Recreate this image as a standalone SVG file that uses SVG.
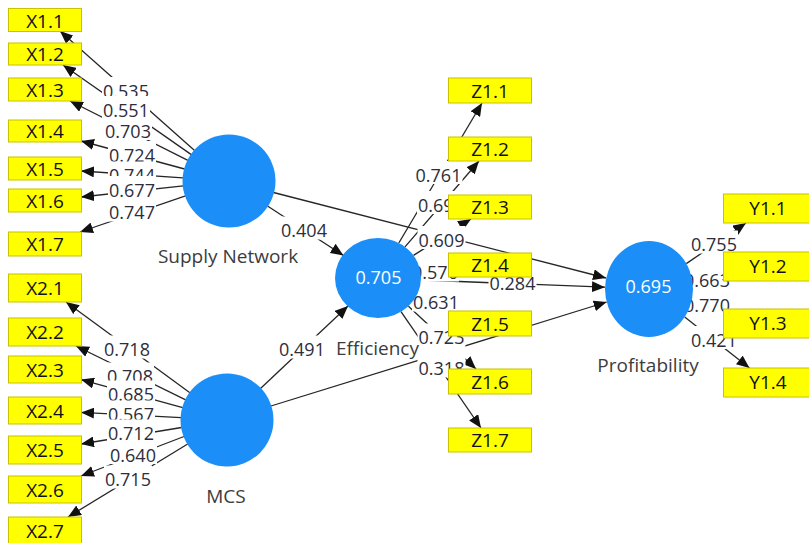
<svg xmlns="http://www.w3.org/2000/svg" width="809" height="543" viewBox="0 0 809 543">
<defs>
<marker id="ah" markerWidth="13" markerHeight="11" refX="13" refY="5.5" orient="auto" markerUnits="userSpaceOnUse">
<path d="M0,0 L13,5.5 L0,11 z" fill="#111"/>
</marker>
<style>
.conn line{stroke:#262626;stroke-width:1.3;fill:none;marker-end:url(#ah)}
.lb rect{fill:#fff}
.lb text{font-family:"Open Sans","Liberation Sans",sans-serif;font-size:18px;text-anchor:middle;fill:#2d2d3c}
.box{fill:#ffff00;stroke:#c8c200;stroke-width:1}
.bt{font-family:"Open Sans","Liberation Sans",sans-serif;font-size:19px;text-anchor:middle;fill:#111}
.lv{fill:#1b8ff7}
.nv{font-family:"Open Sans","Liberation Sans",sans-serif;font-size:18px;text-anchor:middle;fill:#fff}
.nl{font-family:"Open Sans","Liberation Sans",sans-serif;font-size:19px;text-anchor:middle;fill:#3c3c3c}
</style>
</defs>
<rect width="809" height="543" fill="#fff"/>
<g id="connectors" class="conn">
<line x1="194.6" y1="150.5" x2="60" y2="31"/>
<line x1="191.3" y1="154.6" x2="63" y2="65"/>
<line x1="187.9" y1="160.3" x2="70" y2="101"/>
<line x1="184.6" y1="169" x2="81" y2="141"/>
<line x1="183.1" y1="177.9" x2="81" y2="171"/>
<line x1="183.3" y1="185.9" x2="81" y2="197"/>
<line x1="185.5" y1="195.9" x2="80" y2="232"/>
<line x1="189.9" y1="392.8" x2="66" y2="302"/>
<line x1="185.7" y1="399.8" x2="76" y2="346"/>
<line x1="182.7" y1="407.7" x2="81" y2="379.6"/>
<line x1="181.1" y1="417.6" x2="81" y2="412.4"/>
<line x1="181.6" y1="427.5" x2="81" y2="444"/>
<line x1="184" y1="436.5" x2="81" y2="476"/>
<line x1="187.7" y1="444" x2="68" y2="517"/>
<line x1="267.5" y1="206" x2="343.5" y2="255.5"/>
<line x1="260.5" y1="388.5" x2="348" y2="306"/>
<line x1="273.5" y1="192.5" x2="606" y2="278"/>
<line x1="271" y1="406" x2="606.7" y2="302"/>
<line x1="421" y1="280" x2="605" y2="287.2"/>
<line x1="398.8" y1="243" x2="482" y2="103"/>
<line x1="405" y1="246.8" x2="479" y2="161"/>
<line x1="413.5" y1="255.4" x2="471" y2="219"/>
<line x1="420.7" y1="273" x2="448" y2="270"/>
<line x1="418" y1="293" x2="459" y2="311"/>
<line x1="408.4" y1="306.2" x2="476" y2="369"/>
<line x1="401" y1="311.7" x2="481" y2="428"/>
<line x1="686.3" y1="263.6" x2="746" y2="223"/>
<line x1="692.3" y1="280.6" x2="723" y2="275"/>
<line x1="691.5" y1="301.3" x2="723" y2="310.5"/>
<line x1="684.7" y1="317" x2="749.5" y2="368"/>
</g>
<g id="labels" class="lb">
<rect x="102" y="77" width="48" height="23"/><text x="126" y="97.5">0.535</text>
<rect x="102" y="96" width="48" height="23"/><text x="126" y="116.5">0.551</text>
<rect x="104" y="117" width="48" height="23"/><text x="128" y="137.5">0.703</text>
<rect x="108" y="141" width="48" height="23"/><text x="132" y="161.5">0.724</text>
<rect x="108" y="161.5" width="48" height="23"/><text x="132" y="182">0.744</text>
<rect x="108" y="176" width="48" height="23"/><text x="132" y="196.5">0.677</text>
<rect x="108" y="198.5" width="48" height="23"/><text x="132" y="219">0.747</text>
<rect x="103" y="335.5" width="48" height="23"/><text x="127" y="356">0.718</text>
<rect x="106" y="362.5" width="48" height="23"/><text x="130" y="383">0.708</text>
<rect x="107" y="380.5" width="48" height="23"/><text x="131" y="401">0.685</text>
<rect x="107" y="400.5" width="48" height="23"/><text x="131" y="421">0.567</text>
<rect x="107" y="419.5" width="48" height="23"/><text x="131" y="440">0.712</text>
<rect x="109" y="441" width="48" height="23"/><text x="133" y="461.5">0.640</text>
<rect x="104" y="465.5" width="48" height="23"/><text x="128" y="486">0.715</text>
<rect x="280" y="216.5" width="48" height="23"/><text x="304" y="237">0.404</text>
<rect x="278" y="335.5" width="48" height="23"/><text x="302" y="356">0.491</text>
<rect x="488.5" y="269.5" width="48" height="23"/><text x="512.5" y="290">0.284</text>
<rect x="414.5" y="161" width="48" height="23"/><text x="438.5" y="181.5">0.761</text>
<rect x="417" y="191" width="48" height="23"/><text x="441" y="211.5">0.693</text>
<rect x="417.5" y="226" width="48" height="23"/><text x="441.5" y="246.5">0.609</text>
<rect x="411" y="258.5" width="48" height="23"/><text x="435" y="279">0.576</text>
<rect x="412" y="288.5" width="48" height="23"/><text x="436" y="309">0.631</text>
<rect x="417.5" y="323.5" width="48" height="23"/><text x="441.5" y="344">0.723</text>
<rect x="415" y="345" width="50" height="12"/>
<rect x="417.5" y="354.5" width="48" height="23"/><text x="441.5" y="375">0.318</text>
<rect x="690" y="230.5" width="48" height="23"/><text x="714" y="251">0.755</text>
<rect x="683" y="266.5" width="48" height="23"/><text x="707" y="287">0.663</text>
<rect x="683" y="291" width="48" height="23"/><text x="707" y="311.5">0.770</text>
<rect x="690" y="326" width="48" height="23"/><text x="714" y="346.5">0.421</text>
</g>
<g id="supply-network"><circle class="lv" cx="229" cy="181" r="46.5"/><text class="nl" x="228" y="263">Supply Network</text></g>
<g id="mcs"><circle class="lv" cx="227" cy="420" r="46.5"/><text class="nl" x="226" y="503">MCS</text></g>
<g id="efficiency"><ellipse class="lv" cx="378" cy="278" rx="43" ry="40"/><text class="nv" x="378.5" y="284">0.705</text><text class="nl" x="377.5" y="355">Efficiency</text></g>
<g id="profitability"><ellipse class="lv" cx="649" cy="289" rx="44" ry="48"/><text class="nv" x="648.5" y="293">0.695</text><text class="nl" x="648" y="372">Profitability</text></g>
<g id="x1-1"><rect class="box" x="8.5" y="8.5" width="73" height="23"/><text class="bt" x="45" y="27.5">X1.1</text></g>
<g id="x1-2"><rect class="box" x="8.5" y="43" width="73" height="22"/><text class="bt" x="45" y="61">X1.2</text></g>
<g id="x1-3"><rect class="box" x="8.5" y="78" width="73" height="23"/><text class="bt" x="45" y="96.5">X1.3</text></g>
<g id="x1-4"><rect class="box" x="8.5" y="120" width="73" height="22"/><text class="bt" x="45" y="138">X1.4</text></g>
<g id="x1-5"><rect class="box" x="8.5" y="157" width="73" height="23"/><text class="bt" x="45" y="175.5">X1.5</text></g>
<g id="x1-6"><rect class="box" x="8.5" y="189" width="73" height="23"/><text class="bt" x="45" y="207.5">X1.6</text></g>
<g id="x1-7"><rect class="box" x="8.5" y="232" width="73" height="24"/><text class="bt" x="45" y="251">X1.7</text></g>
<g id="x2-1"><rect class="box" x="8.5" y="274" width="73" height="28"/><text class="bt" x="45" y="295">X2.1</text></g>
<g id="x2-2"><rect class="box" x="8.5" y="318" width="73" height="28"/><text class="bt" x="45" y="339">X2.2</text></g>
<g id="x2-3"><rect class="box" x="8.5" y="356" width="73" height="27"/><text class="bt" x="45" y="376.5">X2.3</text></g>
<g id="x2-4"><rect class="box" x="8.5" y="397" width="73" height="27"/><text class="bt" x="45" y="417.5">X2.4</text></g>
<g id="x2-5"><rect class="box" x="8.5" y="436" width="73" height="28"/><text class="bt" x="45" y="457">X2.5</text></g>
<g id="x2-6"><rect class="box" x="8.5" y="476" width="73" height="27"/><text class="bt" x="45" y="496.5">X2.6</text></g>
<g id="x2-7"><rect class="box" x="8.5" y="517" width="73" height="27"/><text class="bt" x="45" y="537.5">X2.7</text></g>
<g id="z1-1"><rect class="box" x="448.5" y="78" width="83" height="25"/><text class="bt" x="490" y="97.5">Z1.1</text></g>
<g id="z1-2"><rect class="box" x="448.5" y="137" width="83" height="24"/><text class="bt" x="490" y="156">Z1.2</text></g>
<g id="z1-3"><rect class="box" x="448.5" y="195" width="83" height="24"/><text class="bt" x="490" y="214">Z1.3</text></g>
<g id="z1-4"><rect class="box" x="448.5" y="253" width="83" height="24"/><text class="bt" x="490" y="272">Z1.4</text></g>
<g id="z1-5"><rect class="box" x="448.5" y="311" width="83" height="25"/><text class="bt" x="490" y="330.5">Z1.5</text></g>
<g id="z1-6"><rect class="box" x="448.5" y="369" width="83" height="25"/><text class="bt" x="490" y="388.5">Z1.6</text></g>
<g id="z1-7"><rect class="box" x="448.5" y="428" width="83" height="24"/><text class="bt" x="490" y="447">Z1.7</text></g>
<g id="y1-1"><rect class="box" x="723.5" y="194" width="90" height="29"/><text class="bt" x="768" y="215">Y1.1</text></g>
<g id="y1-2"><rect class="box" x="723.5" y="252" width="90" height="29"/><text class="bt" x="768" y="273">Y1.2</text></g>
<g id="y1-3"><rect class="box" x="723.5" y="309" width="90" height="29"/><text class="bt" x="768" y="330">Y1.3</text></g>
<g id="y1-4"><rect class="box" x="723.5" y="368" width="90" height="29"/><text class="bt" x="768" y="389">Y1.4</text></g>
</svg>
